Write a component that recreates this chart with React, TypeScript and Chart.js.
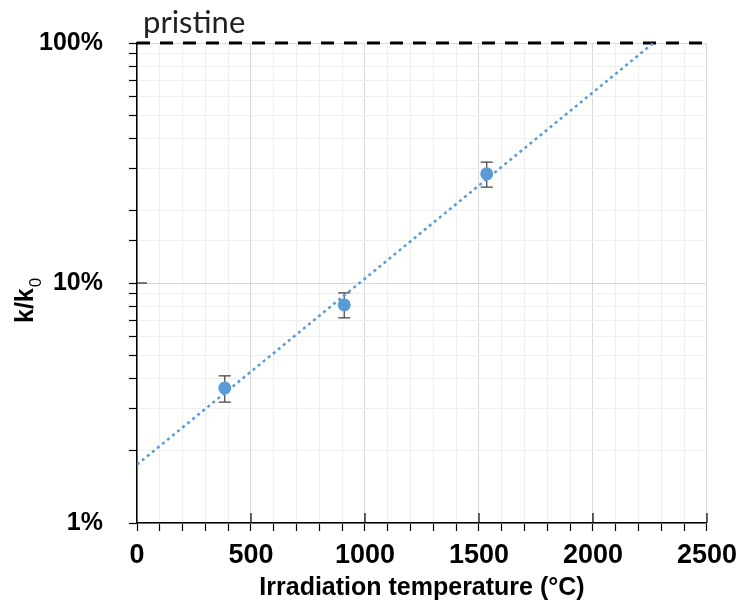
import React, { useEffect, useRef } from 'react';
import { Chart, registerables } from 'chart.js';
Chart.register(...registerables);

// Data
const temperatures = [385, 909, 1534];
const ratios = [3.65, 8.1, 28.5];
const errHigh = [4.1, 9.09, 31.9];
const errLow = [3.19, 7.15, 25.1];
const trendX = [0, 2265];
const trendY = [1.75, 100];
const pristineX = [0, 2500];
const pristineY = [100, 100];
const yTickLabels = [1, 10, 100];
const xMajorStep = 500;

const FONT = '"Liberation Sans", Arial, sans-serif';

const isDecade = (v: number) => Math.abs(Math.log10(v) - Math.round(Math.log10(v))) < 1e-9;

const extras = {
  id: 'extras',
  beforeDatasetsDraw(chart: any) {
    const { ctx, scales: { x, y } } = chart;
    ctx.save();
    ctx.strokeStyle = '#404040';
    ctx.lineWidth = 1.2;
    temperatures.forEach((t, i) => {
      const px = x.getPixelForValue(t);
      const top = y.getPixelForValue(errHigh[i]);
      const bot = y.getPixelForValue(errLow[i]);
      ctx.beginPath();
      ctx.moveTo(px, top); ctx.lineTo(px, bot);
      ctx.moveTo(px - 6, top); ctx.lineTo(px + 6, top);
      ctx.moveTo(px - 6, bot); ctx.lineTo(px + 6, bot);
      ctx.stroke();
    });
    ctx.restore();
  },
  afterDraw(chart: any) {
    const { ctx, chartArea, scales: { x, y } } = chart;
    ctx.save();
    ctx.strokeStyle = '#000';
    ctx.lineWidth = 1.2;
    ctx.beginPath();
    x.ticks.forEach((t: any) => {
      if (t.value % xMajorStep === 0 && t.value > 0) {
        const px = x.getPixelForValue(t.value);
        ctx.moveTo(px, chartArea.bottom);
        ctx.lineTo(px, chartArea.bottom - 10);
      }
    });
    y.ticks.forEach((t: any) => {
      if (isDecade(t.value) && t.value > 1 && t.value < 100) {
        const py = y.getPixelForValue(t.value);
        ctx.moveTo(chartArea.left, py);
        ctx.lineTo(chartArea.left + 10, py);
      }
    });
    ctx.stroke();

    ctx.fillStyle = '#222';
    ctx.textAlign = 'left';
    ctx.textBaseline = 'alphabetic';
    ctx.font = '31px Lato, "Open Sans", sans-serif';
    ctx.fillText('pristine', chartArea.left + 6, chartArea.top - 10);

    ctx.fillStyle = '#000';
    ctx.translate(33, 323);
    ctx.rotate(-Math.PI / 2);
    ctx.font = 'bold 25px ' + FONT;
    ctx.fillText('k/k', 0, 0);
    const w = ctx.measureText('k/k').width;
    ctx.font = '17px ' + FONT;
    ctx.fillText('0', w + 1, 8);
    ctx.restore();
  },
};

export default function App() {
  const ref = useRef<HTMLCanvasElement>(null);
  useEffect(() => {
    const chart = new Chart(ref.current as HTMLCanvasElement, {
      type: 'line',
      data: {
        datasets: [
          {
            label: 'measured',
            data: temperatures.map((t, i) => ({ x: t, y: ratios[i] })),
            showLine: false,
            backgroundColor: '#5b9bd5',
            borderColor: '#5b9bd5',
            pointRadius: 6.5,
            pointBorderWidth: 0,
          },
          {
            label: 'trend',
            data: trendX.map((t, i) => ({ x: t, y: trendY[i] })),
            borderColor: '#5b9bd5',
            borderWidth: 2.5,
            borderDash: [3, 3.5],
            pointRadius: 0,
            fill: false,
          },
          {
            label: 'pristine',
            data: pristineX.map((t, i) => ({ x: t, y: pristineY[i] })),
            borderColor: '#000',
            borderWidth: 3,
            borderDash: [13, 10],
            pointRadius: 0,
            fill: false,
            clip: false as any,
          },
        ],
      } as any,
      options: {
        responsive: false,
        animation: false,
        layout: { padding: { top: 43, right: 37, left: 0, bottom: 0 } },
        plugins: { legend: { display: false }, tooltip: { enabled: false } },
        scales: {
          x: {
            type: 'linear',
            min: 0,
            max: 2500,
            ticks: {
              stepSize: 100,
              autoSkip: false,
              maxRotation: 0,
              callback: (v: any) => (Number(v) % xMajorStep === 0 ? String(v) : ''),
              font: { family: FONT, weight: 'bold', size: 27 },
              color: '#000',
              padding: 8,
            },
            grid: {
              color: (c: any) => (c.tick && c.tick.value % xMajorStep === 0 ? '#d9d9d9' : '#efefef'),
              tickColor: '#000',
              tickLength: 8,
              tickWidth: 1.2,
            },
            border: { color: '#000', width: 1.5 },
            title: {
              display: true,
              text: 'Irradiation temperature (°C)',
              font: { family: FONT, weight: 'bold', size: 25 },
              color: '#000',
              padding: { top: 0, bottom: 2 },
            },
            afterFit: (s: any) => { s.height = 82; },
          },
          y: {
            type: 'logarithmic',
            min: 1,
            max: 100,
            ticks: {
              autoSkip: false,
              callback: (v: any) => (yTickLabels.includes(Number(v)) ? v + '%' : ''),
              font: { family: FONT, weight: 'bold', size: 25 },
              color: '#000',
              padding: 26,
            },
            grid: {
              color: (c: any) => (c.tick && isDecade(c.tick.value) ? '#d9d9d9' : '#efefef'),
              tickColor: '#000',
              tickLength: 8,
              tickWidth: 1.2,
            },
            border: { color: '#000', width: 1.5 },
            afterFit: (s: any) => { s.width = 137; },
          },
        },
      } as any,
      plugins: [extras],
    });
    return () => chart.destroy();
  }, []);
  return (
    <div style={{ position: 'absolute', left: 0, top: 0, width: 745, height: 605, background: '#fff' }}>
      <canvas ref={ref} width={745} height={605} style={{ display: 'block', width: 745, height: 605 }} />
    </div>
  );
}
